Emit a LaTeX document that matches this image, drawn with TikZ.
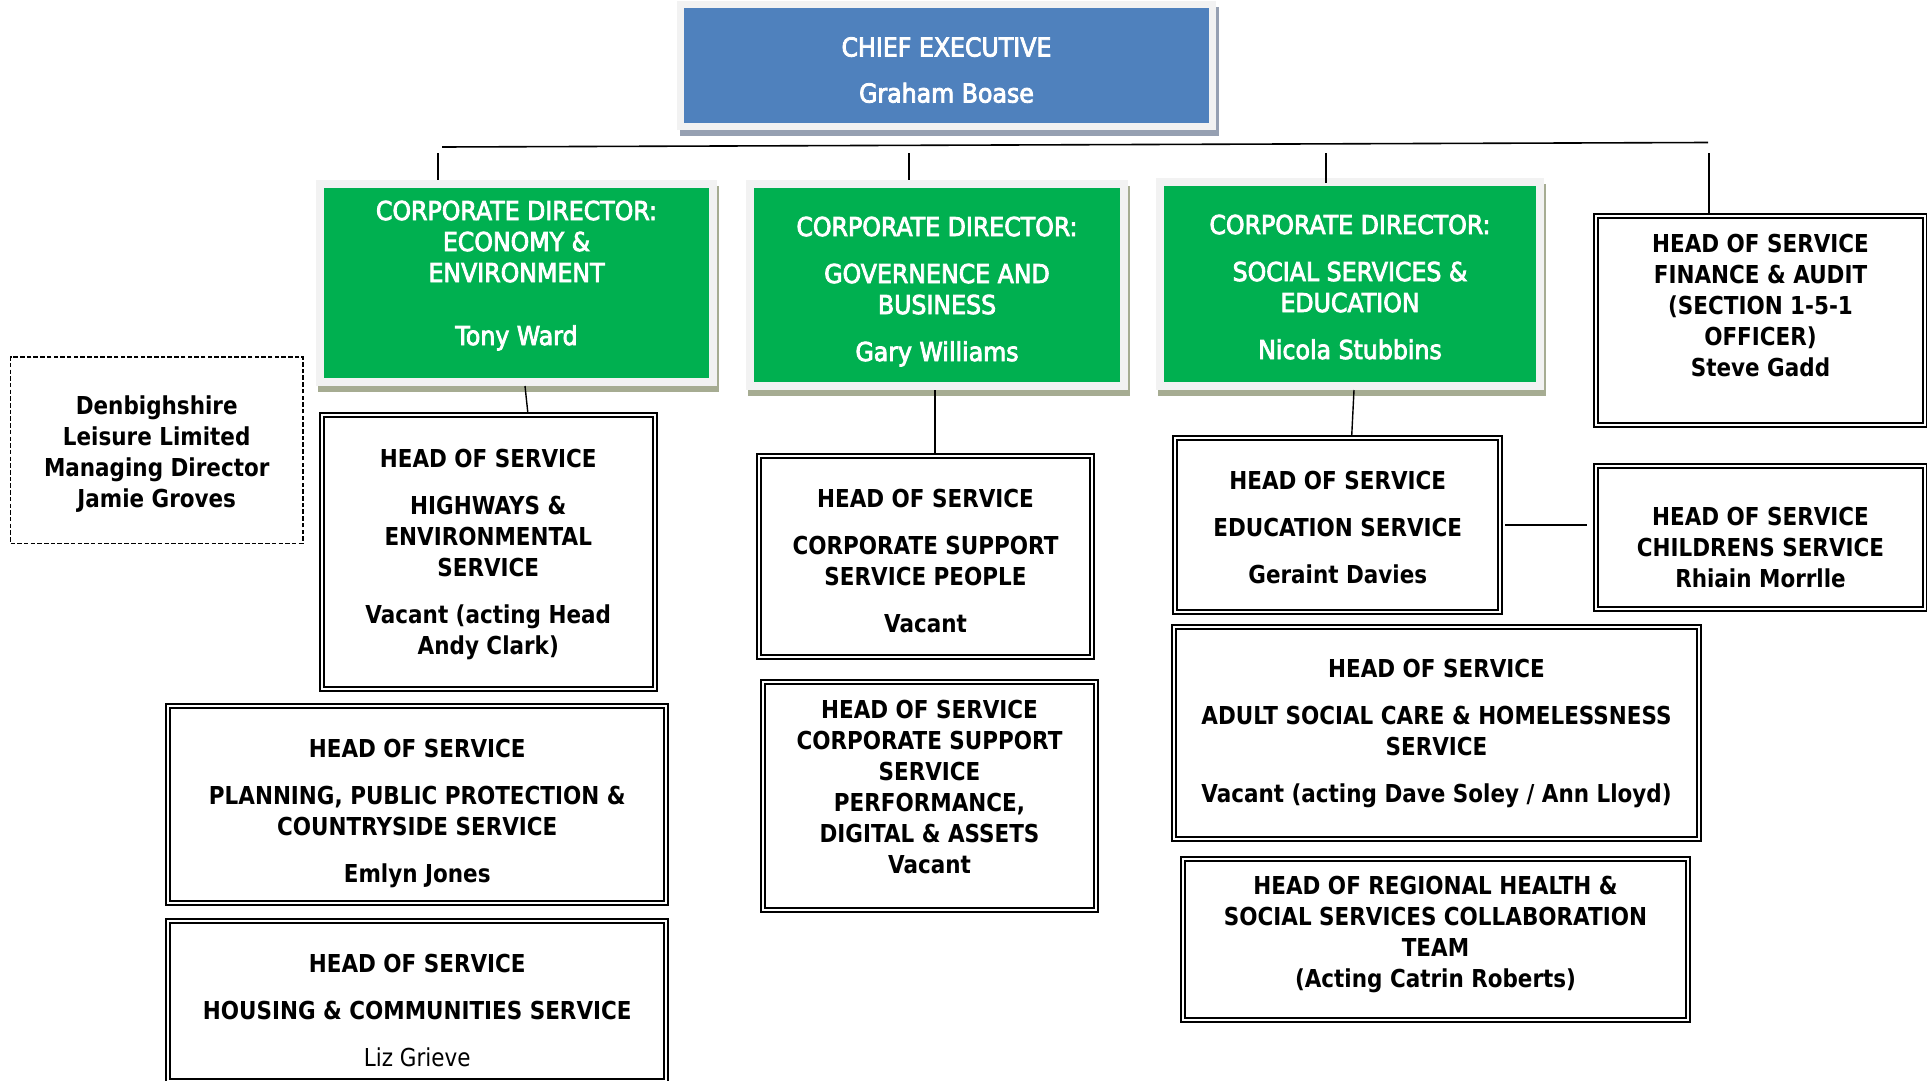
\documentclass[tikz,border=0pt]{standalone}
\usepackage{fontspec}
\usetikzlibrary{backgrounds}

\newfontfamily\whitefont{DejaVu Sans}[FakeStretch=0.91, FakeBold=3.2]
\newfontfamily\blackfont{DejaVu Sans}[FakeStretch=0.87]

\definecolor{ceblue}{RGB}{79,129,189}
\definecolor{cdgreen}{RGB}{0,176,80}
\definecolor{framegrey}{RGB}{242,242,242}
\definecolor{greenshadow}{RGB}{166,172,146}
\definecolor{blueshadow}{RGB}{150,160,178}

% extra height above the first line / depth below the last line
\newcommand{\upstrut}[1]{\rule{0pt}{#1pt}}
\newcommand{\downstrut}[1]{\rule[-#1pt]{0pt}{#1pt}}

\tikzset{
    chief/.style={fill=ceblue, draw=framegrey, line width=7pt, inner sep=0pt, outer sep=3.5pt,
        align=center, text=white, font=\whitefont\fontsize{26}{31}\selectfont},
    director/.style={fill=cdgreen, draw=framegrey, line width=8pt, inner sep=0pt, outer sep=4pt,
        align=center, text=white, font=\whitefont\fontsize{26}{31}\selectfont},
    head/.style={draw, double, line width=2pt, double distance=1.7pt, inner sep=0pt, outer sep=2.85pt,
        align=center, font=\blackfont\bfseries\fontsize{24.7}{31}\selectfont},
    leisure/.style={draw, dash pattern=on 4.5pt off 2.2pt, line width=1.5pt, inner sep=0pt, outer sep=0.75pt,
        align=center, font=\blackfont\bfseries\fontsize{24.7}{31}\selectfont},
    link/.style={line width=1.4pt},
}

\begin{document}
\begin{tikzpicture}[x=1pt, y=-1pt]
        \useasboundingbox (0,0) rectangle (1927,1081);

        % top of the chart
        \node[chief, minimum width=532pt, minimum height=122pt] (ce) at (946.5,65.5)
            {\upstrut{35}CHIEF EXECUTIVE\\[15pt] Graham Boase\downstrut{7}};

        \node[director, minimum width=393pt, minimum height=198pt] (g1) at (516.5,283)
            {\upstrut{21}CORPORATE DIRECTOR:\\ ECONOMY \&\\ ENVIRONMENT\\[32pt] Tony Ward\downstrut{22}};
        \node[director, minimum width=374pt, minimum height=202pt] (g2) at (937,285)
            {\upstrut{34}CORPORATE DIRECTOR:\\[16pt] GOVERNENCE AND\\ BUSINESS\\[16pt] Gary Williams\downstrut{7}};
        \node[director, minimum width=380pt, minimum height=204pt] (g3) at (1350,284)
            {\upstrut{32}CORPORATE DIRECTOR:\\[16pt] SOCIAL SERVICES \&\\ EDUCATION\\[16pt] Nicola Stubbins\downstrut{7}};

        \node[head, minimum width=329.4pt, minimum height=209.4pt] (fin) at (1760.5,320.5)
            {\upstrut{21}HEAD OF SERVICE\\ FINANCE \& AUDIT\\ (SECTION 1-5-1\\ OFFICER)\\ Steve Gadd\downstrut{34}};

        % economy and environment
        \node[leisure, minimum width=292.3pt, minimum height=186.5pt] (dll) at (156.7,450)
            {\upstrut{28}Denbighshire\\ Leisure Limited\\ Managing Director\\ Jamie Groves\downstrut{7}};
        \node[head, minimum width=332.9pt, minimum height=274.4pt] (hw) at (488.25,552)
            {\upstrut{25.7}HEAD OF SERVICE\\[16pt] HIGHWAYS \&\\ ENVIRONMENTAL\\ SERVICE\\[16pt] Vacant (acting Head\\ Andy Clark)\downstrut{7}};
        \node[head, minimum width=497.9pt, minimum height=197.4pt] (plan) at (417.25,804.5)
            {\upstrut{37}HEAD OF SERVICE\\[16pt] PLANNING, PUBLIC PROTECTION \&\\ COUNTRYSIDE SERVICE\\[16pt] Emlyn Jones\downstrut{7}};
        \node[head, minimum width=497.9pt, minimum height=159.6pt] (hou) at (417.25,1000.9)
            {\upstrut{44}HEAD OF SERVICE\\[16pt] HOUSING \& COMMUNITIES SERVICE\\[16pt] {\mdseries Liz Grieve}\downstrut{7}};

        % governence and business
        \node[head, minimum width=333.4pt, minimum height=201.4pt] (csp) at (925.5,556.5)
            {\upstrut{33.5}HEAD OF SERVICE\\[16pt] CORPORATE SUPPORT\\ SERVICE PEOPLE\\[16pt] Vacant\downstrut{7}};
        \node[head, minimum width=333.4pt, minimum height=228.4pt] (perf) at (929.5,796)
            {\upstrut{21}HEAD OF SERVICE\\ CORPORATE SUPPORT\\ SERVICE\\ PERFORMANCE,\\ DIGITAL \& ASSETS\\ Vacant\downstrut{22}};

        % social services and education
        \node[head, minimum width=324.9pt, minimum height=174.4pt] (edu) at (1337.75,525)
            {\upstrut{29}HEAD OF SERVICE\\[16pt] EDUCATION SERVICE\\[16pt] Geraint Davies\downstrut{7}};
        \node[head, minimum width=329.4pt, minimum height=143.4pt] (chi) at (1760.5,537.5)
            {\upstrut{45}HEAD OF SERVICE\\ CHILDRENS SERVICE\\ Rhiain Morrlle\downstrut{7}};
        \node[head, minimum width=525.4pt, minimum height=212.4pt] (adu) at (1436.5,733)
            {\upstrut{21.5}HEAD OF SERVICE\\[16pt] ADULT SOCIAL CARE \& HOMELESSNESS\\ SERVICE\\[16pt] Vacant (acting Dave Soley / Ann Lloyd)\downstrut{7}};
        \node[head, minimum width=505.4pt, minimum height=161.4pt] (reg) at (1435.5,939.5)
            {\upstrut{21}HEAD OF REGIONAL HEALTH \&\\ SOCIAL SERVICES COLLABORATION\\ TEAM\\ (Acting Catrin Roberts)\downstrut{19}};

        % shadows
        \begin{scope}[on background layer]
            \fill[blueshadow] ([xshift=3pt,yshift=-6pt]ce.south west) rectangle ([xshift=3pt,yshift=-6pt]ce.north east);
            \fill[greenshadow] ([xshift=2pt,yshift=-6pt]g1.south west) rectangle ([xshift=2pt,yshift=-6pt]g1.north east);
            \fill[greenshadow] ([xshift=2pt,yshift=-6pt]g2.south west) rectangle ([xshift=2pt,yshift=-6pt]g2.north east);
            \fill[greenshadow] ([xshift=2pt,yshift=-6pt]g3.south west) rectangle ([xshift=2pt,yshift=-6pt]g3.north east);
        \end{scope}

        % lines
        \coordinate (barl) at (442,147);
        \coordinate (barr) at (1708,142.5);
        \coordinate (t1) at (438,153);
        \coordinate (t2) at (909,153);
        \coordinate (t3) at (1326,153);
        \coordinate (t4) at (1709,153);
        \draw[line width=1.6pt] (barl)--(barr);
        \draw[link] (t1)--(t1 |- g1.north);
        \draw[link] (t2)--(t2 |- g2.north);
        \draw[link] (t3)--([yshift=-5pt]t3 |- g3.north);
        \draw[link] (t4)--(t4 |- fin.north);

        \draw[link] ([xshift=8.5pt]g1.south)--([xshift=39.5pt]hw.north);
        \draw[link] ([xshift=-2pt]g2.south)--([xshift=-2pt]g2.south |- csp.north);
        \draw[link] ([xshift=4pt]g3.south)--([xshift=14pt]edu.north);
        \draw[link, shorten <=2pt, shorten >=6pt] (edu.east)--(edu.east -| chi.west);
    \end{tikzpicture}
\end{document}
